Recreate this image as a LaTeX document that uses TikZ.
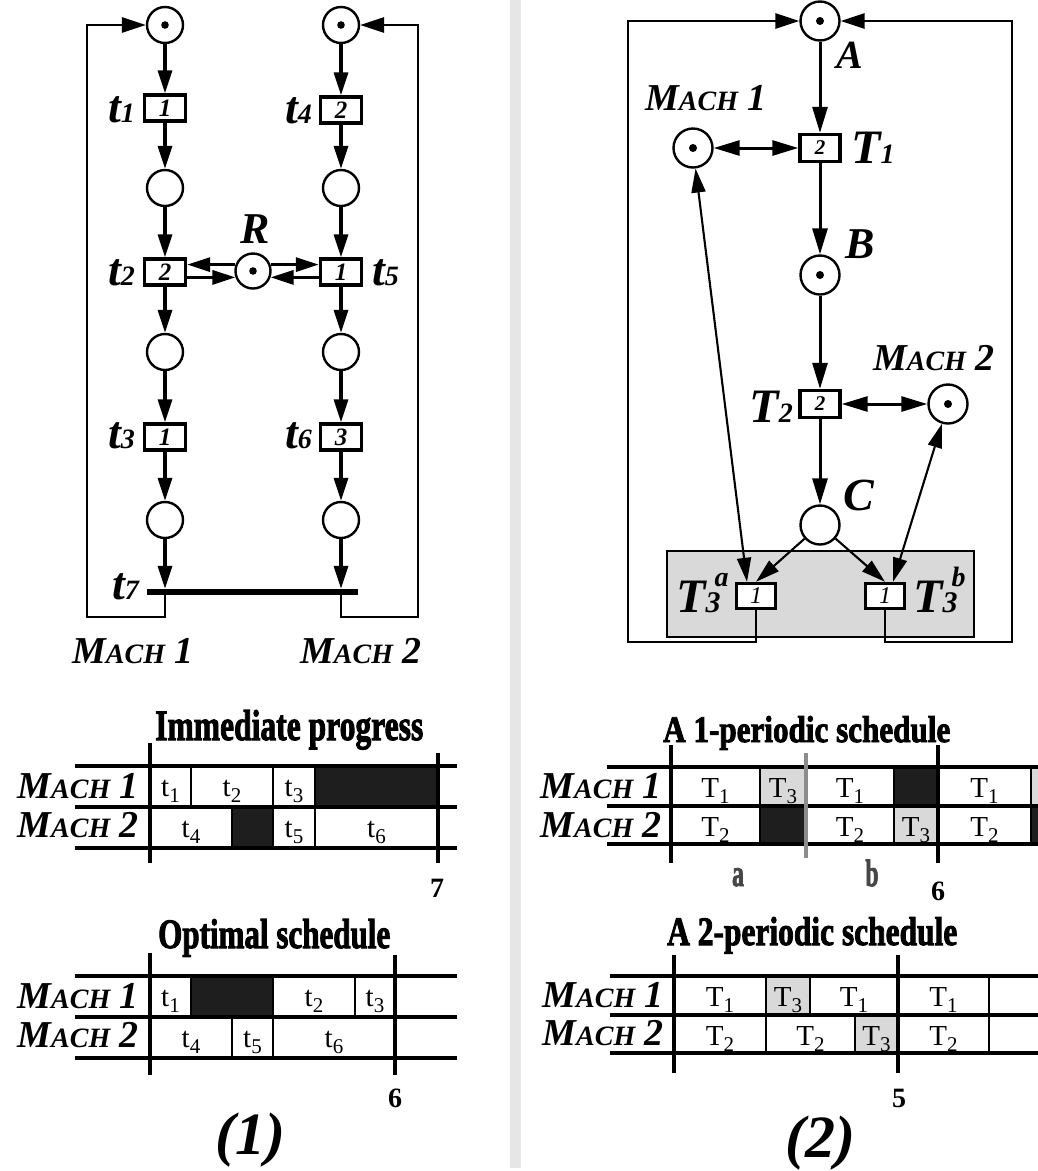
\documentclass[tikz,border=0pt]{standalone}
\usepackage{fontspec}
\usepackage{graphicx}
\setmainfont{Liberation Serif}
\newfontfamily\heavyfont{Liberation Serif Bold}[FakeBold=2.5]
\usetikzlibrary{arrows.meta,calc}
\definecolor{cellgray}{HTML}{D9D9D9}
\definecolor{cellblack}{HTML}{1E1E1E}
\definecolor{sepgray}{HTML}{E6E6E6}
\definecolor{periodgray}{HTML}{8C8C8C}
\definecolor{abgray}{HTML}{474747}
\newcommand\fsz[1]{\fontsize{#1}{#1}\selectfont}
\newcommand\machlbl[1]{{\bfseries\itshape\fsz{38}M\fsz{28}ACH\fsz{38}\ #1}}
\newcommand\bigsym[2]{{\bfseries\itshape\fsz{46}#1\fsz{28}#2}}
\newcommand\bigT[2]{{\bfseries\itshape\fsz{48}#1\fsz{28}#2}}
\newcommand\cellsym[2]{{\fsz{29}#1\raisebox{-6pt}{\fsz{21}#2}}}
\newcommand\heavy[3]{\resizebox{#1pt}{#2pt}{\heavyfont #3}}
\newcommand\gcell[7]{%
  \draw[cellbox,fill=#6] (#2,#4) rectangle (#3,#5);
  \node[celltxt,anchor=base] (#1) at ({(#2+#3)/2},{#4+30}) {#7};}
\begin{document}
\begin{tikzpicture}[x=1pt,y=-1pt,line join=miter,
  place/.style={circle,draw,line width=2.4pt,minimum size=36pt,inner sep=0pt},
  rplace/.style={place,minimum size=39pt},
  trans/.style={draw,fill=white,line width=3.4pt,minimum width=41pt,minimum height=26pt,inner sep=0pt,font=\bfseries\itshape\fsz{25}},
  rtrans/.style={trans,minimum width=40pt,minimum height=27pt,font=\bfseries\itshape\fsz{21}},
  arcst/.style={line width=3.2pt,-{Triangle[length=23pt,width=14pt]}},
  rarc/.style={line width=3pt,-{Triangle[length=26pt,width=15pt]}},
  rdbl/.style={line width=3pt,{Triangle[length=26pt,width=15pt]}-{Triangle[length=26pt,width=15pt]}},
  thinarc/.style={line width=2.1pt,-{Triangle[length=24pt,width=14pt]}},
  thindbl/.style={line width=2.1pt,{Triangle[length=24pt,width=14pt]}-{Triangle[length=24pt,width=14pt]}},
  loopst/.style={line width=2.8pt,-{Triangle[length=24pt,width=15pt]}},
  lbl/.style={inner sep=0pt},
  cellbox/.style={draw,line width=2.4pt},
  celltxt/.style={inner sep=0pt},
  gridline/.style={line width=3.8pt},
  axisline/.style={line width=4.8pt}]
\useasboundingbox (0,0) rectangle (1038,1171);
\fill[white] (0,0) rectangle (1038,1171);
\fill[sepgray] (510,0) rectangle (521,1168);

% ---------------- left Petri net ----------------
\node[place] (L1) at (165,25) {}; \fill (L1) circle (3.8pt);
\node[trans] (t1) at (165,108) {1};
\node[place] (L2) at (165,188) {};
\node[trans] (t2) at (165,272) {2};
\node[place] (L3) at (165,352) {};
\node[trans] (t3) at (165,437) {1};
\node[place] (L4) at (165,520) {};
\node[place] (L5) at (341,25) {}; \fill (L5) circle (3.8pt);
\node[trans] (t4) at (341,110) {2};
\node[place] (L6) at (341,188) {};
\node[trans] (t5) at (341,272) {1};
\node[place] (L7) at (341,352) {};
\node[trans] (t6) at (341,437) {3};
\node[place] (L8) at (341,520) {};
\node[place,minimum size=35pt] (R) at (253,271) {}; \fill (R) circle (3.8pt);
\node[fill=black,inner sep=0pt,minimum width=211pt,minimum height=6pt] (t7) at (252.5,592) {};

\draw[arcst] (L1) -- (t1);
\draw[arcst] (t1) -- (L2);
\draw[arcst] (L2) -- (t2);
\draw[arcst] (t2) -- (L3);
\draw[arcst] (L3) -- (t3);
\draw[arcst] (t3) -- (L4);
\draw[arcst] (L4) -- (L4 |- t7.north);
\draw[arcst] (L5) -- (t4);
\draw[arcst] (t4) -- (L6);
\draw[arcst] (L6) -- (t5);
\draw[arcst] (t5) -- (L7);
\draw[arcst] (L7) -- (t6);
\draw[arcst] (t6) -- (L8);
\draw[arcst] (L8) -- (L8 |- t7.north);
\draw[arcst] (R.160) -- (t2.east |- R.160);
\draw[arcst] (t2.east |- R.200) -- (R.200);
\draw[arcst] (R.20) -- (t5.west |- R.20);
\draw[arcst] (t5.west |- R.340) -- (R.340);
\draw[loopst] (L4 |- t7.south) |- (87,617) |- (L1);
\draw[loopst] (L8 |- t7.south) |- (418,617) |- (L5);

\node[lbl,anchor=base east] (lt1) at (135,122) {\bigsym{t}{1}};
\node[lbl,anchor=base east] (lt4) at (312,123) {\bigsym{t}{4}};
\node[lbl,anchor=base east] (lt2) at (135,285) {\bigsym{t}{2}};
\node[lbl,anchor=base west] (lt5) at (372,285) {\bigsym{t}{5}};
\node[lbl,anchor=base east] (lt3) at (135,448) {\bigsym{t}{3}};
\node[lbl,anchor=base east] (lt6) at (312,448) {\bigsym{t}{6}};
\node[lbl,anchor=base east] (lt7) at (139,599) {\bigsym{t}{7}};
\node[lbl,anchor=base] (lR) at (255,243) {\bfseries\itshape\fsz{44}R};
\node[lbl,anchor=base west] (lm1) at (72,663) {\machlbl{1}};
\node[lbl,anchor=base west] (lm2) at (300,663) {\machlbl{2}};

% ---------------- right Petri net ----------------
\draw[fill=cellgray,line width=2.8pt] (667,551) rectangle (974,637);
\node[rplace] (A) at (820,21) {}; \fill (A) circle (4pt);
\node[rtrans] (T1) at (820,148) {2};
\node[rplace] (B) at (820,275) {}; \fill (B) circle (4pt);
\node[rtrans] (T2) at (820,404) {2};
\node[rplace] (C) at (820,525) {};
\node[rplace] (M1) at (693,148) {}; \fill (M1) circle (4pt);
\node[rplace] (M2) at (948,404) {}; \fill (M2) circle (4pt);
\node[trans,minimum width=39pt,minimum height=25pt,font=\itshape\fsz{24}] (T3a) at (756,596) {1};
\node[trans,minimum width=39pt,minimum height=25pt,font=\itshape\fsz{24}] (T3b) at (885,596) {1};

\draw[rarc] (A) -- (T1);
\draw[rarc] (T1) -- (B);
\draw[rarc] (B) -- (T2);
\draw[rarc] (T2) -- (C);
\draw[rdbl] (M1) -- (T1);
\draw[rdbl] (T2) -- (M2);
\draw[thinarc] (C) -- (T3a.north);
\draw[thinarc] (C) -- (T3b.north);
\draw[thindbl] ([xshift=-9pt]T3a.north) -- (M1);
\draw[thindbl] ([xshift=8pt]T3b.north) -- (M2);
\draw[loopst] (T3a.south) |- (628,642) |- (A);
\draw[loopst] (T3b.south) |- (1012,642) |- (A);

\node[lbl,anchor=base west] (lA) at (836,68) {\bfseries\itshape\fsz{40}A};
\node[lbl,anchor=base west] (lT1) at (851,163) {\bigT{T}{1}};
\node[lbl,anchor=base west] (lB) at (845,258) {\bfseries\itshape\fsz{44}B};
\node[lbl,anchor=base east] (lT2) at (793,422) {\bigT{T}{2}};
\node[lbl,anchor=base west] (lC) at (843,510) {\bfseries\itshape\fsz{46}C};
\node[lbl,anchor=base west] (lM1) at (645,110) {\machlbl{1}};
\node[lbl,anchor=base west] (lM2) at (873,370) {\machlbl{2}};
\node[lbl,anchor=base west] (lT3a) at (676,612) {\bfseries\itshape\fsz{48}T\rlap{\hspace{9pt}\raisebox{26pt}{\fsz{28}a}}{\fsz{30}3}};
\node[lbl,anchor=base west] (lT3b) at (913,612) {\bfseries\itshape\fsz{48}T\rlap{\hspace{9pt}\raisebox{26pt}{\fsz{28}b}}{\fsz{30}3}};

% ---------------- schedule: immediate progress ----------------
\node[lbl,anchor=base west] (ti1) at (155,740) {\heavy{268}{30}{Immediate progress}};
\gcell{a1}{150}{191}{766}{807}{white}{\cellsym{t}{1}}
\gcell{a2}{191}{273}{766}{807}{white}{\cellsym{t}{2}}
\gcell{a3}{273}{315}{766}{807}{white}{\cellsym{t}{3}}
\gcell{a4}{315}{438}{766}{807}{cellblack}{}
\gcell{a5}{150}{232}{807}{848}{white}{\cellsym{t}{4}}
\gcell{a6}{232}{273}{807}{848}{cellblack}{}
\gcell{a7}{273}{315}{807}{848}{white}{\cellsym{t}{5}}
\gcell{a8}{315}{438}{807}{848}{white}{\cellsym{t}{6}}
\draw[gridline] (75,766) -- (457,766);
\draw[gridline] (75,807) -- (457,807);
\draw[gridline] (75,848) -- (457,848);
\draw[axisline] (150,743) -- (150,863);
\draw[axisline] (438,753) -- (438,863);
\node[lbl,anchor=base east] (sa1) at (139,798) {\machlbl{1}};
\node[lbl,anchor=base east] (sa2) at (139,837) {\machlbl{2}};
\node[lbl,anchor=base] (n7) at (437,897) {\bfseries\fsz{28}7};

% ---------------- schedule: optimal ----------------
\node[lbl,anchor=base west] (ti2) at (158,948) {\heavy{232}{29}{Optimal schedule}};
\gcell{b1}{150}{191}{976}{1017}{white}{\cellsym{t}{1}}
\gcell{b2}{191}{273}{976}{1017}{cellblack}{}
\gcell{b3}{273}{355}{976}{1017}{white}{\cellsym{t}{2}}
\gcell{b4}{355}{395}{976}{1017}{white}{\cellsym{t}{3}}
\gcell{b5}{150}{232}{1017}{1058}{white}{\cellsym{t}{4}}
\gcell{b6}{232}{273}{1017}{1058}{white}{\cellsym{t}{5}}
\gcell{b7}{273}{395}{1017}{1058}{white}{\cellsym{t}{6}}
\draw[gridline] (75,976) -- (457,976);
\draw[gridline] (75,1017) -- (457,1017);
\draw[gridline] (75,1058) -- (457,1058);
\draw[axisline] (150,953) -- (150,1075);
\draw[axisline] (395,955) -- (395,1075);
\node[lbl,anchor=base east] (sb1) at (139,1008) {\machlbl{1}};
\node[lbl,anchor=base east] (sb2) at (139,1047) {\machlbl{2}};
\node[lbl,anchor=base] (n6a) at (395,1107) {\bfseries\fsz{28}6};
\node[lbl] (cap1) at (250,1140) {\bfseries\itshape\fsz{60}(1)};

% ---------------- schedule: 1-periodic ----------------
\node[lbl,anchor=base west] (ti3) at (663,742) {\heavy{287}{26}{A 1-periodic schedule}};
\begin{scope}
\clip (590,700) rectangle (1038,1100);
\gcell{c1}{671}{760}{767}{806}{white}{\cellsym{T}{1}}
\gcell{c2}{760}{806}{767}{806}{cellgray}{\cellsym{T}{3}}
\gcell{c3}{806}{894}{767}{806}{white}{\cellsym{T}{1}}
\gcell{c4}{894}{938}{767}{806}{cellblack}{}
\gcell{c5}{938}{1031}{767}{806}{white}{\cellsym{T}{1}}
\gcell{c6}{1031}{1060}{767}{806}{cellgray}{}
\gcell{c7}{671}{760}{806}{844}{white}{\cellsym{T}{2}}
\gcell{c8}{760}{806}{806}{844}{cellblack}{}
\gcell{c9}{806}{894}{806}{844}{white}{\cellsym{T}{2}}
\gcell{c10}{894}{938}{806}{844}{cellgray}{\cellsym{T}{3}}
\gcell{c11}{938}{1031}{806}{844}{white}{\cellsym{T}{2}}
\gcell{c12}{1031}{1060}{806}{844}{cellblack}{}
\draw[gridline] (607,767) -- (1060,767);
\draw[gridline] (607,806) -- (1060,806);
\draw[gridline] (607,844) -- (1060,844);
\end{scope}
\draw[axisline] (671,745) -- (671,863);
\draw[axisline] (938,745) -- (938,863);
\draw[line width=4.5pt,periodgray] (806,753) -- (806,858);
\node[lbl,anchor=base east] (sc1) at (662,798) {\machlbl{1}};
\node[lbl,anchor=base east] (sc2) at (662,837) {\machlbl{2}};
\node[lbl,anchor=base] (la) at (738,886) {\color{abgray}\scalebox{0.62}[1]{\heavyfont\fsz{38}a}};
\node[lbl,anchor=base] (lb) at (872,886) {\color{abgray}\scalebox{0.62}[1]{\heavyfont\fsz{38}b}};
\node[lbl,anchor=base] (n6b) at (938,900) {\bfseries\fsz{28}6};

% ---------------- schedule: 2-periodic ----------------
\node[lbl,anchor=base west] (ti4) at (667,945) {\heavy{290}{28}{A 2-periodic schedule}};
\begin{scope}
\clip (590,900) rectangle (1038,1100);
\gcell{d1}{674}{766}{976}{1015}{white}{\cellsym{T}{1}}
\gcell{d2}{766}{810}{976}{1015}{cellgray}{\cellsym{T}{3}}
\gcell{d3}{810}{898}{976}{1015}{white}{\cellsym{T}{1}}
\gcell{d4}{898}{989}{976}{1015}{white}{\cellsym{T}{1}}
\gcell{d5}{989}{1060}{976}{1015}{white}{}
\gcell{d6}{674}{766}{1015}{1053}{white}{\cellsym{T}{2}}
\gcell{d7}{766}{855}{1015}{1053}{white}{\cellsym{T}{2}}
\gcell{d8}{855}{898}{1015}{1053}{cellgray}{\cellsym{T}{3}}
\gcell{d9}{898}{989}{1015}{1053}{white}{\cellsym{T}{2}}
\gcell{d10}{989}{1060}{1015}{1053}{white}{}
\draw[gridline] (610,976) -- (1060,976);
\draw[gridline] (610,1015) -- (1060,1015);
\draw[gridline] (610,1053) -- (1060,1053);
\end{scope}
\draw[axisline] (674,955) -- (674,1073);
\draw[axisline] (898,955) -- (898,1073);
\node[lbl,anchor=base east] (sd1) at (664,1007) {\machlbl{1}};
\node[lbl,anchor=base east] (sd2) at (664,1045) {\machlbl{2}};
\node[lbl,anchor=base] (n5) at (899,1107) {\bfseries\fsz{28}5};
\node[lbl] (cap2) at (820,1143) {\bfseries\itshape\fsz{60}(2)};
\end{tikzpicture}
\end{document}
